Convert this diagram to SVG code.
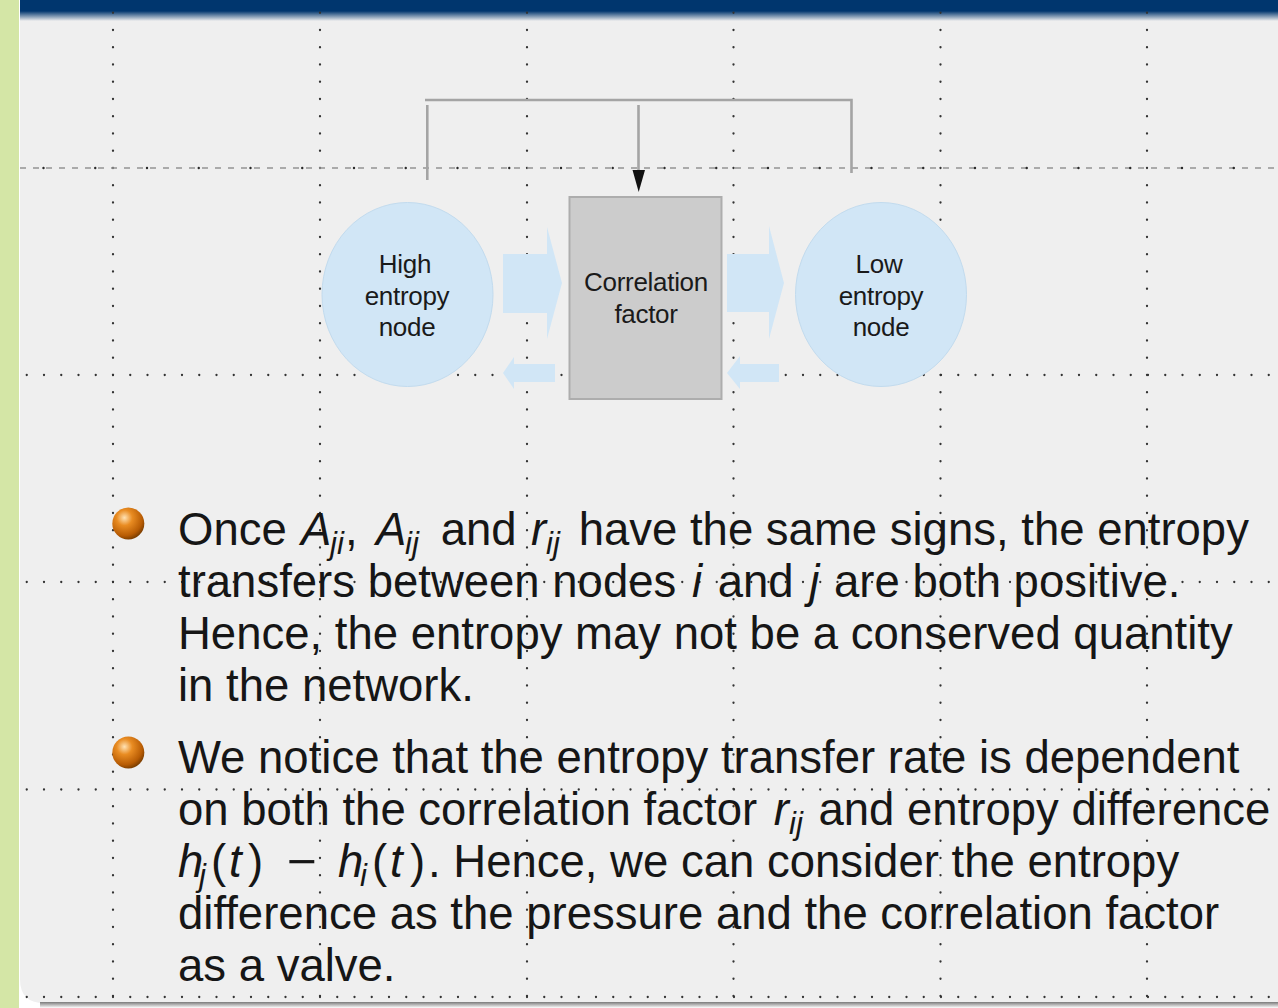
<svg xmlns="http://www.w3.org/2000/svg" width="1278" height="1008" viewBox="0 0 1278 1008">
<defs>
<linearGradient id="barFade" x1="0" y1="0" x2="0" y2="1">
<stop offset="0" stop-color="#00366e"/>
<stop offset="1" stop-color="#00366e" stop-opacity="0"/>
</linearGradient>
<linearGradient id="shadow" x1="0" y1="0" x2="0" y2="1">
<stop offset="0" stop-color="#7a7a7a"/>
<stop offset="1" stop-color="#ffffff"/>
</linearGradient>
<radialGradient id="ball" cx="0.38" cy="0.32" r="0.7">
<stop offset="0" stop-color="#ffe2b4"/>
<stop offset="0.35" stop-color="#e98c22"/>
<stop offset="0.8" stop-color="#b85c04"/>
<stop offset="1" stop-color="#7c3e00"/>
</radialGradient>
<style>
.vdot{stroke:#333333;stroke-width:2.3;stroke-linecap:round;stroke-dasharray:0 17.25;fill:none}
.hdot{stroke:#333333;stroke-width:2.3;stroke-linecap:round;stroke-dasharray:0 17.25;fill:none}
.hdash{stroke:#949494;stroke-width:1.5;stroke-dasharray:6 7;fill:none}
.ddot{stroke:#2a2a2a;stroke-width:2.4;stroke-linecap:round;stroke-dasharray:0 51.75;fill:none}
.blob{fill:#d1e6f6;stroke:#c2dbee;stroke-width:1}
.flow{fill:#d1e6f6}
.box{fill:#cccccc;stroke:#adadad;stroke-width:2}
.lbl{font-family:"Liberation Sans",Arial,sans-serif;font-size:26px;fill:#1a1a1a;text-anchor:middle;letter-spacing:-0.3px}
.body{font-family:"Liberation Sans",Arial,sans-serif;font-size:45.5px;fill:#161616}
.it{font-style:italic}
.sub{font-style:italic;font-size:31px}
.wire{stroke:#a4a4a4;stroke-width:2.6;fill:none}
</style>
</defs>
<rect x="0" y="0" width="1278" height="1008" fill="#ffffff"/>
<rect x="0" y="0" width="19" height="1008" fill="#d4e6a6"/>
<path d="M20 0 H1278 V1003 H44 Q20 1003 20 979 Z" fill="#efefef"/>
<rect x="40" y="1002" width="1238" height="6" fill="url(#shadow)"/>
<rect x="20" y="0" width="1258" height="11" fill="#00366e"/>
<rect x="20" y="11" width="1258" height="10" fill="url(#barFade)"/>

<g id="grid">
<path class="vdot" d="M113 12.75 V1000 M320 12.75 V1000 M527 12.75 V1000 M733.5 12.75 V1000 M940.5 12.75 V1000 M1147 12.75 V1000"/>
<path class="hdot" d="M26.75 375 H1278 M26.75 582 H1278 M26.75 789.5 H1278 M26.75 997 H1278"/>
<path class="hdash" d="M20 168 H1278"/>
<path class="ddot" d="M43.5 168 H1278"/>
</g>

<g id="connectors">
<path class="wire" d="M425 100 H851.5 V173"/>
<path class="wire" d="M427.3 105 V180"/>
<path class="wire" d="M638.5 105 V172"/>
<polygon points="632.5,170 645,170 638.7,192" fill="#111111"/>
<polygon class="flow" points="503,254 547,254 547,227 562,283 547,339 547,313 503,313"/>
<polygon class="flow" points="503,373 514,357 514,364 555,364 555,382 514,382 514,389"/>
<polygon class="flow" points="727,254 769,254 769,226 784,283 769,339 769,312 727,312"/>
<polygon class="flow" points="727,373 740,356 740,364 779,364 779,382 740,382 740,389"/>
</g>

<g id="node-high">
<ellipse class="blob" cx="407.5" cy="294.5" rx="85.5" ry="92"/>
<text class="lbl" x="405" y="272.5">High</text>
<text class="lbl" x="407" y="304.5">entropy</text>
<text class="lbl" x="407" y="336">node</text>
</g>

<g id="node-corr">
<rect class="box" x="569.5" y="197" width="152" height="202"/>
<text class="lbl" x="646" y="291">Correlation</text>
<text class="lbl" x="646" y="323">factor</text>
</g>

<g id="node-low">
<ellipse class="blob" cx="881" cy="294.5" rx="85.5" ry="92"/>
<text class="lbl" x="879" y="272.5">Low</text>
<text class="lbl" x="881" y="304.5">entropy</text>
<text class="lbl" x="881" y="336">node</text>
</g>

<g id="bullets">
<circle cx="128.3" cy="523.5" r="16" fill="url(#ball)"/>
<circle cx="128.3" cy="752.5" r="16" fill="url(#ball)"/>
</g>

<g id="text">
<text class="body" y="545"><tspan x="178">Once</tspan><tspan class="it" x="301">A</tspan><tspan class="sub" x="330" dy="9">ji</tspan><tspan x="345" dy="-9">,</tspan><tspan class="it" x="376">A</tspan><tspan class="sub" x="405" dy="9">ij</tspan><tspan x="428" dy="-9"> and</tspan><tspan class="it" x="531">r</tspan><tspan class="sub" x="546" dy="9">ij</tspan><tspan x="566" dy="-9"> have the same signs, the entropy</tspan></text>
<text class="body" x="178" y="597">transfers between nodes <tspan class="it" dx="3">i</tspan><tspan dx="3"> and </tspan><tspan class="it" dx="3">j</tspan><tspan dx="2"> are both positive.</tspan></text>
<text class="body" x="178" y="649">Hence, the entropy may not be a conserved quantity</text>
<text class="body" x="178" y="701">in the network.</text>
<text class="body" x="178" y="773">We notice that the entropy transfer rate is dependent</text>
<text class="body" x="178" y="825">on both the correlation factor <tspan class="it" dx="4">r</tspan><tspan class="sub" dy="9">ij</tspan><tspan dx="3" dy="-9"> and entropy difference</tspan></text>
<text class="body" y="877"><tspan class="it" x="178">h</tspan><tspan class="sub" x="199" dy="9">j</tspan><tspan x="211" dy="-9">(</tspan><tspan class="it" x="229">t</tspan><tspan x="248">)</tspan><tspan x="287" textLength="30" lengthAdjust="spacingAndGlyphs">−</tspan><tspan class="it" x="338">h</tspan><tspan class="sub" x="360" dy="9">i</tspan><tspan x="372" dy="-9">(</tspan><tspan class="it" x="390">t</tspan><tspan x="410">)</tspan><tspan x="428">. Hence, we can consider the entropy</tspan></text>
<text class="body" x="178" y="929">difference as the pressure and the correlation factor</text>
<text class="body" x="178" y="981">as a valve.</text>
</g>
</svg>
